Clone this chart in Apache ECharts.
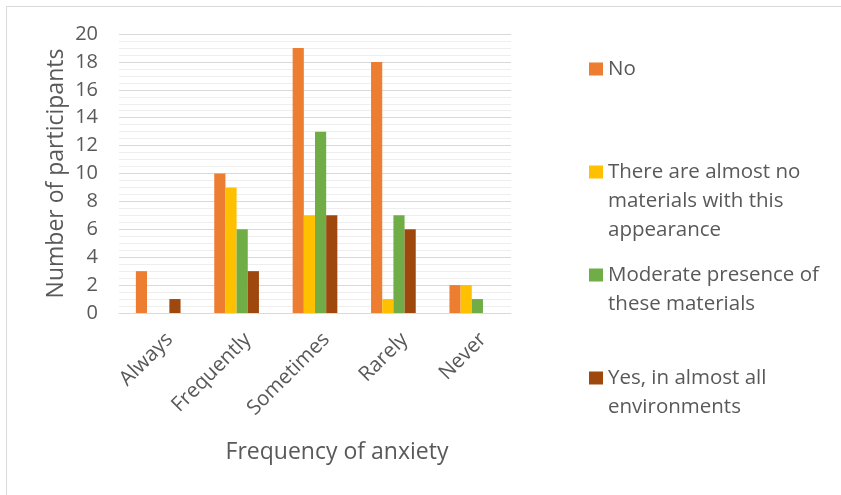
<!DOCTYPE html>
<html>
<head>
<meta charset="utf-8">
<script src="https://cdn.jsdelivr.net/npm/echarts@6/dist/echarts.min.js"></script>
<style>
  html, body { margin: 0; padding: 0; background: #fff; }
  #chart { width: 841px; height: 495px; }
</style>
</head>
<body>
<div id="chart"></div>
<script>
// Frequency of anxiety by presence of materials
const categories = ['Always', 'Frequently', 'Sometimes', 'Rarely', 'Never'];
const seriesNames = [
  'No',
  'There are almost no materials with this appearance',
  'Moderate presence of these materials',
  'Yes, in almost all environments'
];
const legendLines = [
  ['No'],
  ['There are almost no', 'materials with this', 'appearance'],
  ['Moderate presence of', 'these materials'],
  ['Yes, in almost all', 'environments']
];
const valuesNo = [3, 10, 19, 18, 2];
const valuesAlmostNone = [0, 9, 7, 1, 2];
const valuesModerate = [0, 6, 13, 7, 1];
const valuesYes = [1, 3, 7, 6, 0];
const yTicks = { min: 0, max: 20, interval: 2 };

const colors = ['#ED7D31', '#FFC000', '#70AD47', '#9E480E'];
const seriesValues = [valuesNo, valuesAlmostNone, valuesModerate, valuesYes];
const FONT = 'Open Sans';
const TEXT = '#595959';
const LH = 29;
const LEGEND_PAD = 5;

// One legend block per series. The swatch sits level with the first text
// line: blank lines are added above so the text block centres on line one.
const firstLineY = [69, 172, 275, 378];
const legends = seriesNames.map((name, i) => {
  const n = legendLines[i].length;
  const blockH = (2 * n - 1) * LH;
  return {
    data: [name],
    orient: 'vertical',
    left: 589 - LEGEND_PAD,
    top: firstLineY[i] - LEGEND_PAD - blockH / 2,
    padding: LEGEND_PAD,
    itemWidth: 14,
    itemHeight: 13,
    itemGap: 0,
    selectedMode: false,
    icon: 'rect',
    formatter: () => '\n'.repeat(n - 1) + legendLines[i].join('\n'),
    textStyle: {
      fontFamily: FONT,
      fontSize: 20.5,
      color: TEXT,
      lineHeight: LH
    }
  };
});

const chart = echarts.init(document.getElementById('chart'));
chart.setOption({
  animation: false,
  backgroundColor: '#fff',
  textStyle: { fontFamily: FONT },
  graphic: [{
    type: 'rect',
    shape: { x: 6.5, y: 6.5, width: 900, height: 600 },
    style: { fill: null, stroke: '#d9d9d9', lineWidth: 1 },
    silent: true
  }],
  legend: legends,
  grid: { left: 119, right: 330, top: 34, bottom: 182 },
  xAxis: {
    type: 'category',
    data: categories,
    axisLine: { lineStyle: { color: '#d9d9d9', width: 1 } },
    axisTick: { show: false },
    axisLabel: {
      rotate: 45,
      fontFamily: FONT,
      fontSize: 20.5,
      color: TEXT,
      margin: 12,
      verticalAlign: 'top',
      lineHeight: 32,
      interval: 0
    },
    name: 'Frequency of anxiety',
    nameLocation: 'middle',
    nameGap: 128,
    nameTextStyle: { fontFamily: FONT, fontSize: 23, color: TEXT, padding: [0, 0, 0, 44] },
    splitLine: { show: false }
  },
  yAxis: {
    type: 'value',
    min: yTicks.min,
    max: yTicks.max,
    interval: yTicks.interval,
    axisLine: { show: false },
    axisTick: { show: false },
    axisLabel: { fontFamily: FONT, fontSize: 20, color: TEXT, margin: 21 },
    splitLine: { lineStyle: { color: '#d9d9d9', width: 1 } },
    minorTick: { show: false, splitNumber: 4 },
    minorSplitLine: { show: true, lineStyle: { color: '#eeeeee', width: 1 } },
    name: 'Number of participants',
    nameLocation: 'middle',
    nameRotate: 90,
    nameGap: 51,
    nameTextStyle: { fontFamily: FONT, fontSize: 23, color: TEXT }
  },
  series: seriesNames.map((name, i) => ({
    name,
    type: 'bar',
    data: seriesValues[i],
    barGap: '0%',
    barCategoryGap: '43%',
    itemStyle: { color: colors[i] }
  }))
});
</script>
</body>
</html>
